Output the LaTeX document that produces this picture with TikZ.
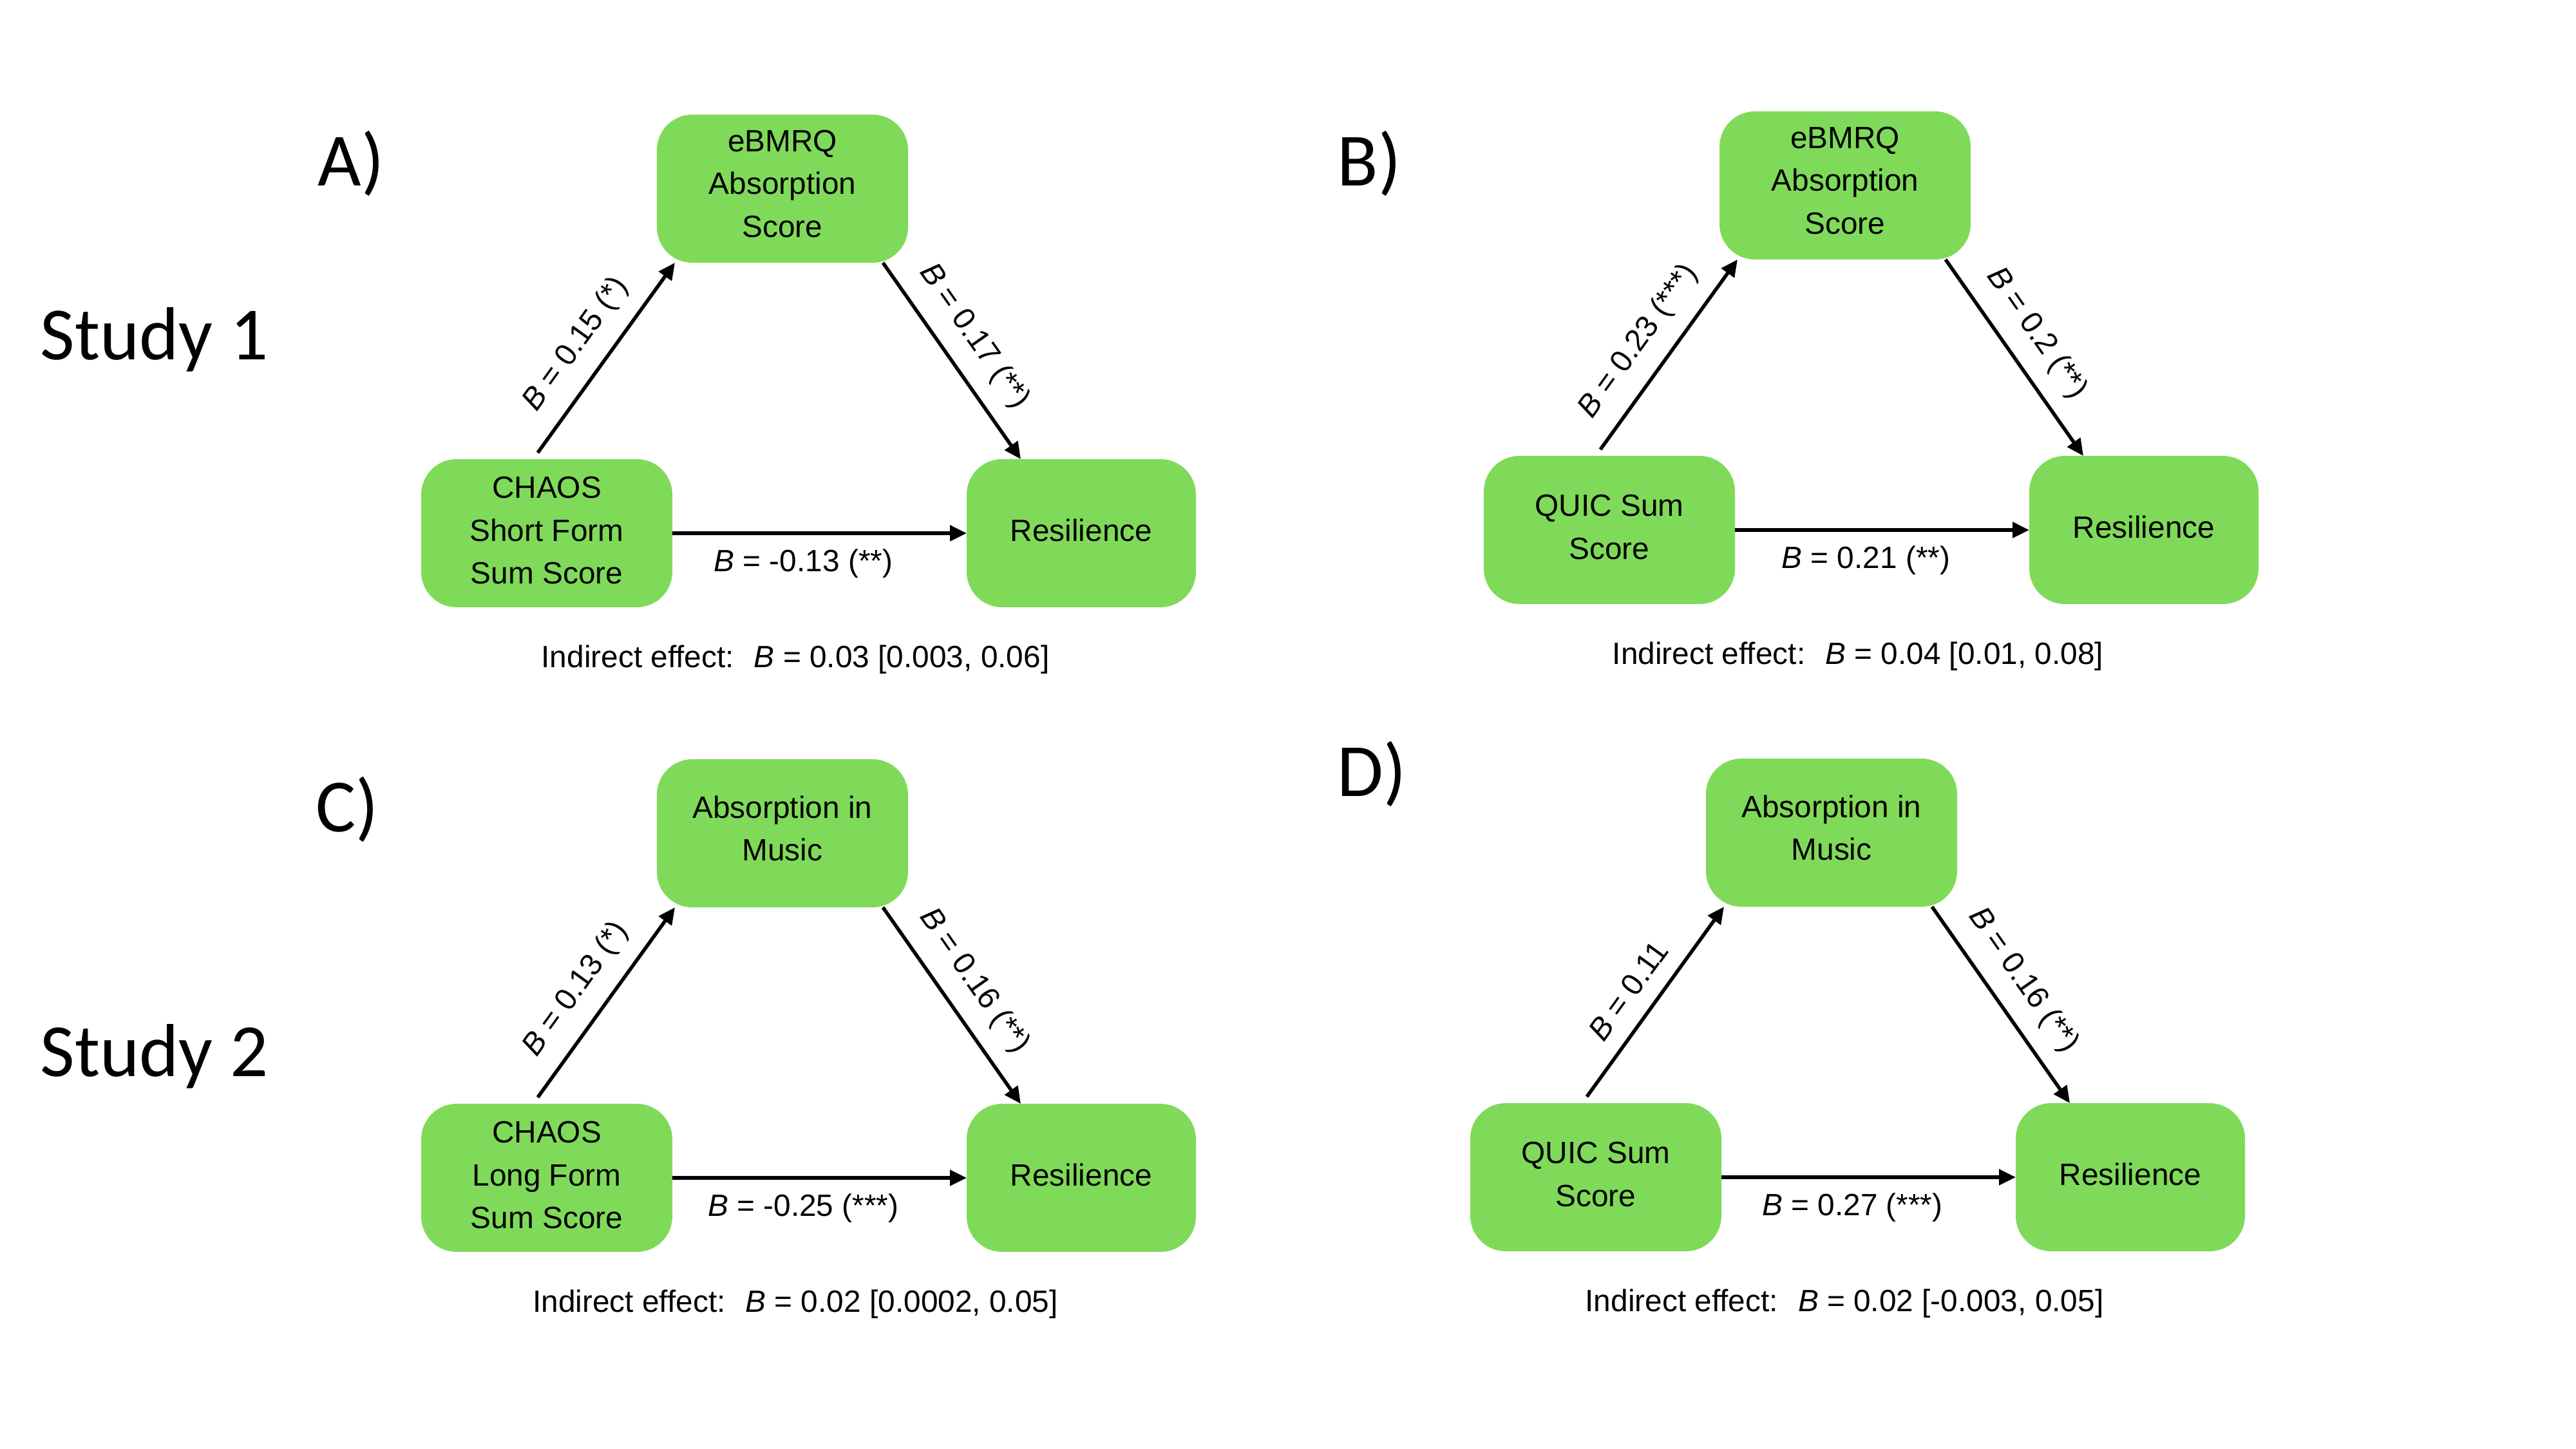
\documentclass[tikz,border=0pt]{standalone}
\usepackage{fontspec}
\setmainfont{Liberation Sans}
\newfontfamily\panelfont{Carlito}
\usetikzlibrary{arrows.meta}
\definecolor{boxgreen}{RGB}{128,218,90}
\begin{document}
\begin{tikzpicture}[
  x=1cm, y=1cm,
  every node/.style={font=\fontsize{13.6pt}{18.9pt}\selectfont},
  varbox/.style={fill=boxgreen, rounded corners=0.55cm, align=center,
                 minimum height=2.3cm, inner sep=0pt, outer sep=0pt, text depth=0.09cm},
  midbox/.style={varbox, minimum width=3.9cm, text depth=0.16cm},
  leftbox/.style={varbox, minimum width=3.9cm},
  rightbox/.style={varbox, minimum width=3.56cm},
  effect/.style={line width=0.055cm, -{Triangle[length=0.26cm,width=0.24cm]}},
  coef/.style={pos=0.47, sloped, above=0.13cm, inner sep=0.333em},
  coefh/.style={pos=0.445, below=0.1cm, inner sep=0.333em},
  heading/.style={font=\panelfont\fontsize{33.2pt}{39pt}\selectfont, anchor=base west, inner sep=0pt},
  summary/.style={anchor=base, inner sep=0pt}
]
\useasboundingbox (0,0) rectangle (40,22.5);
\fill[white] (0,0) rectangle (40,22.5);

% study headings and panel letters
\node[heading] (s1) at (0.62,16.91) {Study 1};
\node[heading] (s2) at (0.62,5.78) {Study 2};
\node[heading] (pa) at (4.93,19.61) {A)};
\node[heading] (pb) at (20.76,19.61) {B)};
\node[heading] (pc) at (4.90,9.58) {C)};
\node[heading] (pd) at (20.76,10.13) {D)};

% Panel A
\begin{scope}[shift={(0,0)}]
\node[midbox] (tA) at (12.15,19.57) {eBMRQ\\Absorption\\Score};
\node[leftbox] (lA) at (8.49,14.22) {CHAOS\\Short Form\\Sum Score};
\node[rightbox] (rA) at (16.79,14.22) {Resilience};
\draw[effect] ([shift={(-0.14,0.1)}]lA.north) -- node[coef] {\textit{B} = 0.15 (*)} ([xshift=0.28cm]tA.south west);
\draw[effect] ([xshift=-0.39cm]tA.south east) -- node[coef] {\textit{B} = 0.17 (**)} ([xshift=0.84cm]rA.north west);
\draw[effect] (lA.east) -- node[coefh] {\textit{B} = -0.13 (**)} (rA.west);
\node[summary] (iA) at (12.35,12.13) {Indirect effect:~ \textit{B} = 0.03 [0.003, 0.06]};
\end{scope}

% Panel B
\begin{scope}[shift={(16.5,0.05)}]
\node[midbox] (tB) at (12.15,19.57) {eBMRQ\\Absorption\\Score};
\node[leftbox] (lB) at (8.49,14.22) {QUIC Sum\\Score};
\node[rightbox] (rB) at (16.79,14.22) {Resilience};
\draw[effect] ([shift={(-0.14,0.1)}]lB.north) -- node[coef] {\textit{B} = 0.23 (***)} ([xshift=0.28cm]tB.south west);
\draw[effect] ([xshift=-0.39cm]tB.south east) -- node[coef] {\textit{B} = 0.2 (**)} ([xshift=0.84cm]rB.north west);
\draw[effect] (lB.east) -- node[coefh] {\textit{B} = 0.21 (**)} (rB.west);
\node[summary] (iB) at (12.35,12.13) {Indirect effect:~ \textit{B} = 0.04 [0.01, 0.08]};
\end{scope}

% Panel C
\begin{scope}[shift={(0,-10.01)}]
\node[midbox] (tC) at (12.15,19.57) {Absorption in\\Music};
\node[leftbox] (lC) at (8.49,14.22) {CHAOS\\Long Form\\Sum Score};
\node[rightbox] (rC) at (16.79,14.22) {Resilience};
\draw[effect] ([shift={(-0.14,0.1)}]lC.north) -- node[coef] {\textit{B} = 0.13 (*)} ([xshift=0.28cm]tC.south west);
\draw[effect] ([xshift=-0.39cm]tC.south east) -- node[coef] {\textit{B} = 0.16 (**)} ([xshift=0.84cm]rC.north west);
\draw[effect] (lC.east) -- node[coefh] {\textit{B} = -0.25 (***)} (rC.west);
\node[summary] (iC) at (12.35,12.13) {Indirect effect:~ \textit{B} = 0.02 [0.0002, 0.05]};
\end{scope}

% Panel D
\begin{scope}[shift={(16.29,-10.0)}]
\node[midbox] (tD) at (12.15,19.57) {Absorption in\\Music};
\node[leftbox] (lD) at (8.49,14.22) {QUIC Sum\\Score};
\node[rightbox] (rD) at (16.79,14.22) {Resilience};
\draw[effect] ([shift={(-0.14,0.1)}]lD.north) -- node[coef] {\textit{B} = 0.11} ([xshift=0.28cm]tD.south west);
\draw[effect] ([xshift=-0.39cm]tD.south east) -- node[coef] {\textit{B} = 0.16 (**)} ([xshift=0.84cm]rD.north west);
\draw[effect] (lD.east) -- node[coefh] {\textit{B} = 0.27 (***)} (rD.west);
\node[summary] (iD) at (12.35,12.13) {Indirect effect:~ \textit{B} = 0.02 [-0.003, 0.05]};
\end{scope}
\end{tikzpicture}
\end{document}
